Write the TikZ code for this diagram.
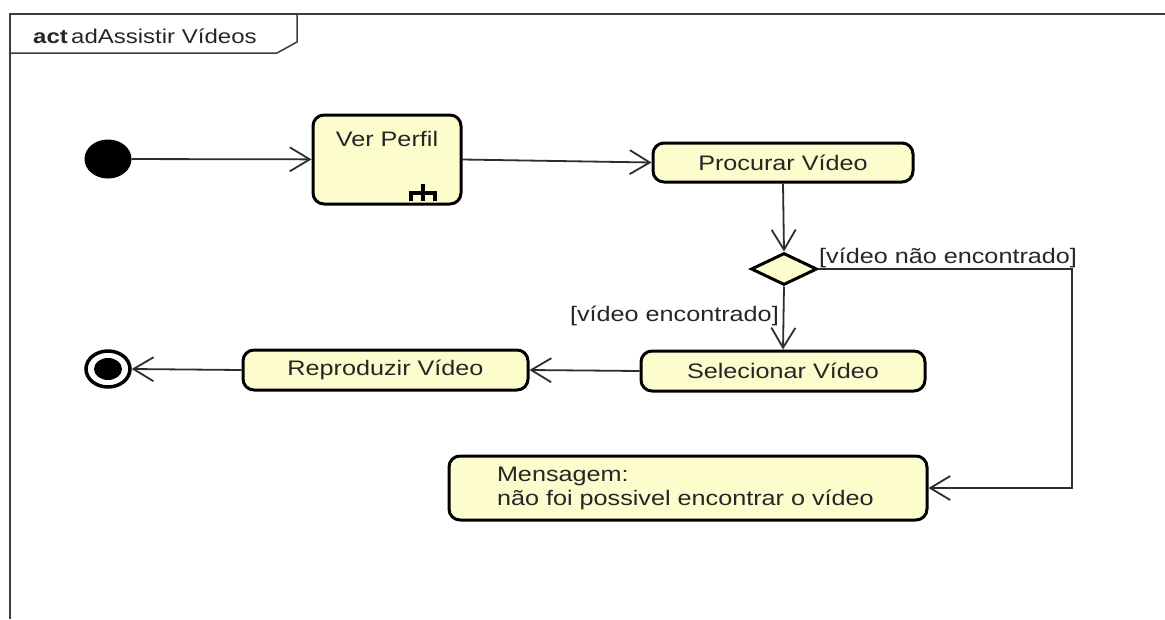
\documentclass[tikz,border=0pt]{standalone}
\usepackage{fontspec}
\setmainfont{Liberation Sans}[FakeStretch=1.2]
\usetikzlibrary{arrows.meta,shapes.geometric}

\definecolor{actfill}{RGB}{253,252,205}
\definecolor{edgecol}{RGB}{45,45,45}
\definecolor{framecol}{RGB}{60,60,60}

\newcommand{\lblfont}{\fontsize{21}{24}\selectfont}

\tikzset{
  action/.style={draw=black, line width=3pt, rounded corners=11pt, fill=actfill,
                 inner sep=0pt, font=\lblfont, text=black!85},
  flow/.style={draw=edgecol, line width=1.8pt,
               -{Straight Barb[length=20pt,width=24pt,line width=1.8pt]}},
  guard/.style={font=\lblfont, text=black!85, inner sep=0pt},
  startnode/.style={ellipse, fill=black, draw=black, line width=1pt,
                    minimum width=46pt, minimum height=38pt, inner sep=0pt},
  endnode/.style={ellipse, fill=white, draw=black, line width=3.5pt,
                  minimum width=44pt, minimum height=36pt, inner sep=0pt},
  decision/.style={diamond, draw=black, line width=3pt, fill=actfill,
                   minimum width=66pt, minimum height=32pt, inner sep=0pt},
}

\begin{document}
\begin{tikzpicture}[x=1pt,y=-1pt]
  \useasboundingbox (0,0) rectangle (1165,619);

  % frame with name tab
  \draw[framecol, line width=1.5pt] (1165,14) -- (10,14) -- (10,619);
  \draw[framecol, line width=1.5pt] (10,53) -- (277,53) -- (297,42) -- (297,14);
  \node[anchor=west, inner sep=0pt, font=\fontsize{20}{24}\selectfont, text=black!85]
    (title) at (33,36) {\textbf{act}\,adAssistir Vídeos};

  % initial and final nodes
  \node[startnode] (init) at (108,159) {};
  \node[endnode] (fin) at (108,369) {};
  \node[ellipse, fill=black, minimum width=28pt, minimum height=22pt, inner sep=0pt]
    (fincore) at (108,369) {};

  % actions
  \node[action, minimum width=148pt, minimum height=89pt,
        label={[anchor=center, font=\lblfont, text=black!85, yshift=-25pt]north:Ver Perfil}]
    (vp) at (387,159.5) {};
  % call-behaviour rake symbol
  \draw[black, line width=4pt] (409,193) -- (437,193)
        (423,184) -- (423,201) (411,193) -- (411,201) (435,193) -- (435,201);

  \node[action, minimum width=260pt, minimum height=39pt] (pv) at (783,162.5) {Procurar Vídeo};
  \node[decision] (dec) at (784,269) {};
  \node[action, minimum width=284pt, minimum height=40pt] (sv) at (783,371) {Selecionar Vídeo};
  \node[action, minimum width=285pt, minimum height=40pt] (rv) at (385.5,370) {Reproduzir Vídeo};
  \node[action, minimum width=478pt, minimum height=64pt, text width=382pt,
        inner xsep=48pt, align=left] (msg) at (688,488)
    {Mensagem:\\não foi possivel encontrar o vídeo};

  % guards
  \node[guard, anchor=west] (gno) at (819,258) {[vídeo não encontrado]};
  \node[guard, anchor=east] (gyes) at (779,316) {[vídeo encontrado]};

  % control flows
  \coordinate (turn) at (1072,269);
  \draw[flow] (init) -- (vp);
  \draw[flow] (vp.east) -- (pv.west);
  \draw[flow] (pv.south) -- (dec.north);
  \draw[flow] (dec.south) -- (sv.north);
  \draw[flow] (dec.east) -- (turn) |- (msg.east);
  \draw[flow] (sv.west) -- (rv.east);
  \draw[flow] (rv.west) -- (fin.east);
\end{tikzpicture}
\end{document}
